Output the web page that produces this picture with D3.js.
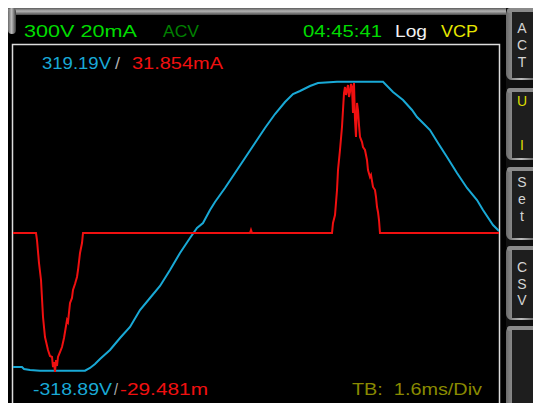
<!DOCTYPE html>
<html><head><meta charset="utf-8">
<script src="https://cdn.jsdelivr.net/npm/d3@7"></script>
<style>html,body{margin:0;padding:0;background:#fff;overflow:hidden}svg{display:block}text{white-space:pre}</style>
</head><body>
<script>
// ---- data (time in ms, voltage in V, current in mA) ----
const voltTime = [0,0.296,0.362,0.560,0.889,2.370,2.535,2.700,2.864,3.193,3.523,3.852,4.181,4.510,4.840,5.169,5.498,5.827,6.058,6.255,6.486,6.650,6.979,7.309,7.638,7.967,8.296,8.626,8.955,9.218,9.449,9.778,10.041,10.667,12.181,12.510,12.840,13.136,13.300,13.498,13.728,13.992,14.288,14.617,14.947,15.276,15.473,15.802,15.967,16.0];
const voltValues = [-310.72,-310.72,-315.14,-317.34,-318.89,-318.89,-312.93,-304.10,-293.06,-273.19,-246.69,-222.40,-184.87,-158.38,-131.88,-96.55,-59.02,-25.90,-3.82,7.22,35.92,53.58,84.49,117.61,150.73,183.85,216.97,247.88,274.37,292.04,298.66,309.70,316.32,319.19,319.19,296.45,278.79,256.71,241.25,228.01,212.55,183.85,152.94,117.61,84.49,58.00,35.92,2.80,-8.24,-10.45];
const currTime = [0,0.757,0.790,0.856,0.922,0.988,1.053,1.152,1.218,1.284,1.317,1.350,1.383,1.416,1.449,1.481,1.547,1.613,1.679,1.778,1.811,1.877,1.942,1.975,2.041,2.107,2.140,2.206,2.272,2.305,7.802,7.835,7.868,10.502,10.535,10.601,10.667,10.700,10.765,10.831,10.864,10.897,10.930,10.963,10.996,11.029,11.062,11.095,11.128,11.160,11.193,11.210,11.226,11.259,11.292,11.325,11.358,11.391,11.424,11.490,11.523,11.588,11.654,11.687,11.753,11.786,11.852,11.918,11.951,11.984,12.016,12.049,12.082,16.0];
const currValues = [0,0,-1.49,-6.37,-9.98,-17.84,-22.09,-24.85,-26.12,-26.33,-28.46,-27.39,-29.48,-26.97,-28.24,-26.33,-25.27,-24.21,-22.30,-18.48,-18.90,-14.87,-13.80,-12.10,-10.83,-9.34,-7.86,-4.25,-2.12,0,0,0.64,0,0,2.12,3.82,9.13,13.38,17.63,22.51,26.12,29.73,31.00,29.31,30.37,31.43,28.88,29.94,31.64,31.00,25.48,29.73,31.85,24.00,20.39,27.61,26.12,22.93,20.39,19.32,18.26,17.63,15.50,13.38,11.89,12.32,9.77,9.13,7.64,5.52,4.46,2.76,0,0];
const headerLabels = ["300V 20mA","ACV","04:45:41","Log","VCP"];
const maxLabels = ["319.19V","/","31.854mA"];
const minLabels = ["-318.89V","/","-29.481m"];
const timebaseLabel = "TB:  1.6ms/Div";
const buttonLabels = [["A","C","T"],["U","I"],["S","e","t"],["C","S","V"],[]];

// ---- layout ----
const W = 533, H = 403;
const FONT = "Liberation Sans";
const svg = d3.select("body").append("svg").attr("width", W).attr("height", H);
const defs = svg.append("defs");
const gv = defs.append("linearGradient").attr("id","bevelV").attr("x1",0).attr("x2",0).attr("y1",0).attr("y2",1);
gv.append("stop").attr("offset","0%").attr("stop-color","#5a5a5a");
gv.append("stop").attr("offset","45%").attr("stop-color","#b4b4b4");
gv.append("stop").attr("offset","100%").attr("stop-color","#4a4a4a");
const gh = defs.append("linearGradient").attr("id","bevelH").attr("x1",0).attr("x2",1).attr("y1",0).attr("y2",0);
gh.append("stop").attr("offset","0%").attr("stop-color","#6a6a6a");
gh.append("stop").attr("offset","45%").attr("stop-color","#bdbdbd");
gh.append("stop").attr("offset","100%").attr("stop-color","#3a3a3a");

svg.append("rect").attr("width",W).attr("height",H).attr("fill","#fff");
// screen
svg.append("rect").attr("x",8).attr("y",14).attr("width",499).attr("height",H-14).attr("fill","#000");
svg.append("rect").attr("x",8).attr("y",8).attr("width",499).attr("height",7).attr("fill","url(#bevelV)");
svg.append("rect").attr("x",8).attr("y",8).attr("width",8).attr("height",26).attr("rx",4).attr("fill","url(#bevelH)");

// right button column
svg.append("rect").attr("x",506).attr("y",8).attr("width",27).attr("height",H-8).attr("fill","#101010");
const buttons = [[8,80],[88,160],[167,240],[246,320],[326,410]];
const letterBase = [[33,50,67],[106,150],[187,204,221],[272,289,305]];
buttons.forEach((b,i)=>{
  svg.append("rect").attr("x",506).attr("y",b[0]).attr("width",34).attr("height",b[1]-b[0]).attr("rx",6).attr("fill","url(#bevelH)");
  svg.append("rect").attr("x",507).attr("y",b[0]).attr("width",30).attr("height",5).attr("rx",3).attr("fill","#8a8a8a");
  svg.append("rect").attr("x",512).attr("y",b[0]+4).attr("width",25).attr("height",b[1]-b[0]-6).attr("fill","#1e1e1e");
  buttonLabels[i].forEach((l,j)=>{
    svg.append("text").attr("x",522).attr("y",letterBase[i][j]).attr("text-anchor","middle")
      .attr("font-family",FONT).attr("font-size",14)
      .attr("fill", i===1 ? "#dede00" : "#d4d4d4").text(l);
  });
});

// plot frame
const plot = {x0:13, x1:499, y0:45, y1:H};
svg.append("rect").attr("x",12.5).attr("y",44.5).attr("width",487).attr("height",380)
  .attr("fill","none").attr("stroke","#dcdcdc").attr("stroke-width",1.5);

defs.append("clipPath").attr("id","clip").append("rect")
  .attr("x",plot.x0).attr("y",plot.y0).attr("width",plot.x1-plot.x0).attr("height",plot.y1-plot.y0);

const x = d3.scaleLinear().domain([0,16]).range([plot.x0, plot.x1]);
const yV = d3.scaleLinear().domain([-318.89, 319.19]).range([370.7, 81.7]);
const yI = d3.scaleLinear().domain([-32, 32]).range([383.7, 82.3]);

const g = svg.append("g").attr("clip-path","url(#clip)");
const vData = voltTime.map((t,i)=>[t, voltValues[i]]);
const iData = currTime.map((t,i)=>[t, currValues[i]]);
g.append("path").datum(vData).attr("fill","none").attr("stroke","#19a9d6").attr("stroke-width",2)
  .attr("d", d3.line().x(d=>x(d[0])).y(d=>yV(d[1])));
g.append("path").datum(iData).attr("fill","none").attr("stroke","#f01010").attr("stroke-width",2)
  .attr("d", d3.line().x(d=>x(d[0])).y(d=>yI(d[1])));

// texts
function txt(s, x0, x1, y, color, size){
  svg.append("text").attr("x",x0).attr("y",y).attr("font-family",FONT).attr("font-size",size||17)
    .attr("xml:space","preserve")
    .attr("fill",color).attr("textLength",x1-x0).attr("lengthAdjust","spacingAndGlyphs").text(s);
}
txt(headerLabels[0], 24, 137, 37, "#00dc00");
txt(headerLabels[1], 163, 199, 37, "#008000");
txt(headerLabels[2], 303, 382, 37, "#00dc00");
txt(headerLabels[3], 395, 427, 37, "#f2f2f2");
txt(headerLabels[4], 441, 478, 37, "#e6e600");

txt(maxLabels[0], 42, 111, 69, "#19a9d6");
txt(maxLabels[1], 115, 120, 69, "#b0b0b0");
txt(maxLabels[2], 132, 223, 69, "#f01010");
txt(minLabels[0], 33, 112, 395, "#19a9d6");
txt(minLabels[1], 114, 118, 395, "#b0b0b0");
txt(minLabels[2], 120, 208, 395, "#f01010");
txt(timebaseLabel, 352, 482, 395, "#8a8a00");
</script>
</body></html>
